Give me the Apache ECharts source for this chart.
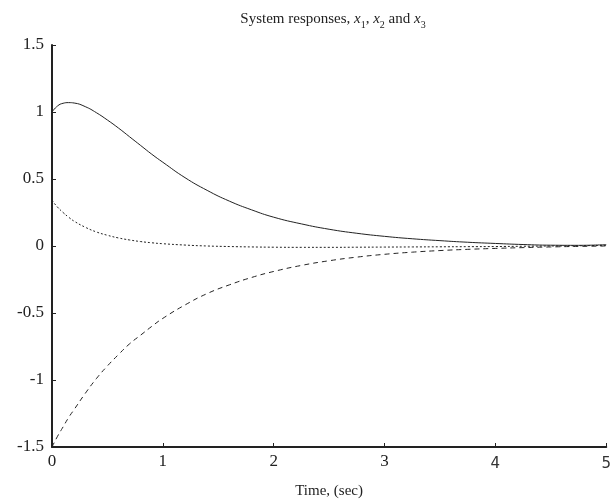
<!DOCTYPE html>
<html>
<head>
<meta charset="utf-8">
<script src="https://cdn.jsdelivr.net/npm/echarts@6/dist/echarts.min.js"></script>
<style>html,body{margin:0;padding:0;background:#fff}#c{width:614px;height:504px}</style>
</head>
<body>
<div id="c"></div>
<script>
var time = [0,0.05,0.1,0.15,0.2,0.3,0.4,0.5,0.6,0.7,0.8,0.9,1.0,1.2,1.4,1.6,1.8,2.0,2.25,2.5,2.75,3.0,3.25,3.5,3.75,4.0,4.25,4.5,4.75,5.0];
var x1 = [1.00,1.045,1.065,1.07,1.067,1.04,0.995,0.94,0.88,0.815,0.75,0.685,0.625,0.51,0.415,0.335,0.27,0.215,0.165,0.125,0.095,0.072,0.054,0.04,0.028,0.019,0.011,0.006,0.005,0.01];
var x2 = [0.34,0.29,0.25,0.215,0.185,0.14,0.105,0.08,0.06,0.045,0.033,0.024,0.017,0.007,0.0,-0.004,-0.007,-0.009,-0.01,-0.01,-0.009,-0.008,-0.007,-0.006,-0.005,-0.004,-0.002,0.0,0.002,0.005];
var x3 = [-1.5,-1.42,-1.35,-1.28,-1.22,-1.10,-0.99,-0.895,-0.81,-0.73,-0.665,-0.6,-0.54,-0.44,-0.355,-0.29,-0.235,-0.19,-0.145,-0.11,-0.083,-0.062,-0.046,-0.034,-0.025,-0.018,-0.012,-0.007,-0.003,0.0];
var xTicks = ['0','1','2','3','4','5'];
var yTicks = ['-1.5','-1','-0.5','0','0.5','1','1.5'];
var titleParts = ['System responses, ', 'x', '1', ', ', 'x', '2', ' and ', 'x', '3'];
var xName = 'Time, (sec)';

function pairs(v){ return time.map(function(t,i){ return [t, v[i]]; }); }
var serif = '"Liberation Serif", "DejaVu Serif", serif';
var sans = '"DejaVu Sans", sans-serif';
var ink = '#222';

var titleText = '{n|' + titleParts[0] + '}{i|' + titleParts[1] + '}{s|' + titleParts[2] + '}{n|' + titleParts[3] + '}{i|' + titleParts[4] + '}{s|' + titleParts[5] + '}{n|' + titleParts[6] + '}{i|' + titleParts[7] + '}{s|' + titleParts[8] + '}';

var chart = echarts.init(document.getElementById('c'), null, {renderer:'canvas'});
chart.setOption({
  animation: false,
  backgroundColor: '#fff',
  title: {
    text: titleText,
    left: 328, top: 2, textAlign: 'center',
    textStyle: {
      fontWeight: 'normal',
      rich: {
        n: {fontFamily: serif, fontSize: 15, fontWeight: 'normal', color: ink, lineHeight: 20, verticalAlign: 'bottom'},
        i: {fontFamily: serif, fontSize: 15, fontWeight: 'normal', fontStyle: 'italic', color: ink, lineHeight: 20, verticalAlign: 'bottom'},
        s: {fontFamily: serif, fontSize: 10, fontWeight: 'normal', color: ink, lineHeight: 14, verticalAlign: 'bottom', padding: [0,0,-3,0]}
      }
    }
  },
  grid: {left: 52, right: 2, top: 45, bottom: 56, containLabel: false},
  xAxis: {
    type: 'value', min: 0, max: 5, interval: 1,
    name: xName, nameLocation: 'middle', nameGap: 37,
    nameTextStyle: {fontFamily: serif, fontSize: 15, color: ink},
    axisLine: {show: true, onZero: false, lineStyle: {color: ink, width: 2}},
    axisTick: {show: true, inside: true, length: 4, lineStyle: {color: ink, width: 1}},
    splitLine: {show: false},
    axisLabel: {
      margin: 6, color: ink,
      formatter: function(v){ var s = xTicks[Math.round(v)]; return v >= 4 ? '{b|' + s + '}' : '{a|' + s + '}'; },
      rich: {
        a: {fontFamily: serif, fontSize: 17, color: ink},
        b: {fontFamily: sans, fontSize: 15, color: '#333', padding: [4,0,0,0]}
      }
    }
  },
  yAxis: {
    type: 'value', min: -1.5, max: 1.5, interval: 0.5,
    axisLine: {show: true, onZero: false, lineStyle: {color: ink, width: 2}},
    axisTick: {show: true, inside: true, length: 4, lineStyle: {color: ink, width: 1}},
    splitLine: {show: false},
    axisLabel: {
      margin: 8, fontFamily: serif, fontSize: 17, color: ink,
      formatter: function(v){ return yTicks[Math.round((v + 1.5) / 0.5)]; }
    }
  },
  series: [
    {name: 'x1', type: 'line', data: pairs(x1), showSymbol: false, smooth: 0.5,
     lineStyle: {color: ink, width: 1, type: 'solid'}},
    {name: 'x2', type: 'line', data: pairs(x2), showSymbol: false, smooth: 0.5,
     lineStyle: {color: ink, width: 1, type: [2, 2]}},
    {name: 'x3', type: 'line', data: pairs(x3), showSymbol: false, smooth: 0.5,
     lineStyle: {color: ink, width: 1, type: [5, 4]}}
  ]
});
</script>
</body>
</html>
